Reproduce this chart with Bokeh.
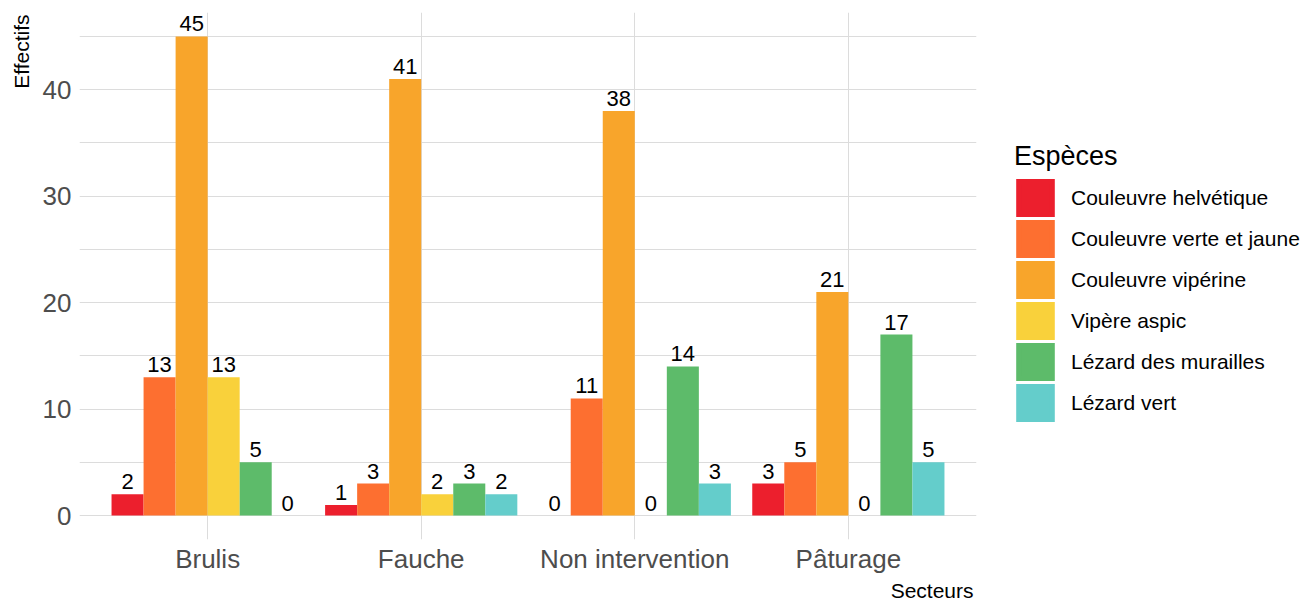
from bokeh.plotting import figure
from bokeh.models import FactorRange, Range1d, FixedTicker, Legend, LegendItem, Title, ColumnDataSource
from bokeh.transform import dodge
from bokeh.core.properties import value
from bokeh.embed import file_html
from bokeh.resources import INLINE

sectors = ["Brulis", "Fauche", "Non intervention", "Pâturage"]
species = ["Couleuvre helvétique", "Couleuvre verte et jaune", "Couleuvre vipérine",
           "Vipère aspic", "Lézard des murailles", "Lézard vert"]
colors = ["#EC1F2D", "#FD6F30", "#F8A52B", "#F9D13B", "#5DBB6A", "#64CDCB"]

couleuvre_helvetique = [2, 1, 0, 3]
couleuvre_verte_jaune = [13, 3, 11, 5]
couleuvre_viperine = [45, 41, 38, 21]
vipere_aspic = [13, 2, 0, 0]
lezard_murailles = [5, 3, 14, 17]
lezard_vert = [0, 2, 3, 5]
series = [couleuvre_helvetique, couleuvre_verte_jaune, couleuvre_viperine,
          vipere_aspic, lezard_murailles, lezard_vert]

y_ticks = [0, 10, 20, 30, 40]
y_minor = [5, 15, 25, 35, 45]

FONT = "Liberation Sans"
GRID = "#DCDCDC"

p = figure(x_range=FactorRange(factors=sectors, range_padding=0.1, range_padding_units="absolute"),
           y_range=Range1d(-2.25, 47.25),
           width=None, height=None, frame_width=897, frame_height=527,
           output_backend="svg", toolbar_location=None,
           min_border_left=78, min_border_right=330, min_border_top=12, min_border_bottom=0)
p.outline_line_color = None
p.background_fill_color = "white"

n = len(species)
bw = 0.9 / n
items = []
for j, (name, vals, col) in enumerate(zip(species, series, colors)):
    off = (j - (n - 1) / 2) * bw
    src = ColumnDataSource(dict(sector=sectors, v=vals, t=[str(v) for v in vals]))
    p.vbar(x=dodge("sector", off, range=p.x_range), top="v", bottom=0, width=bw,
           source=src, fill_color=col, line_color=None)
    p.text(x=dodge("sector", off, range=p.x_range), y="v", text="t", source=src,
           text_align="center", text_baseline="bottom", y_offset=-5,
           text_font=value(FONT), text_font_size="22px", text_color="black")
    # hidden proxy used only for the legend swatch
    key = p.vbar(x=dodge("sector", off, range=p.x_range), top="v", bottom=0, width=bw,
                 source=src, fill_color=col, line_color=col, line_width=5,
                 line_join="miter", visible=False)
    items.append(LegendItem(label=name, renderers=[key]))

p.yaxis.ticker = FixedTicker(ticks=y_ticks, minor_ticks=y_minor)
for ax in (p.xaxis, p.yaxis):
    ax.axis_line_color = None
    ax.major_tick_line_color = None
    ax.minor_tick_line_color = None
    ax.major_tick_out = 0
    ax.major_tick_in = 0
    ax.minor_tick_out = 0
    ax.minor_tick_in = 0
    ax.major_label_text_font = FONT
    ax.major_label_text_font_size = "26px"
    ax.major_label_text_color = "#4D4D4D"
p.yaxis.major_label_standoff = 8
p.xaxis.major_label_standoff = 4

p.ygrid.grid_line_color = GRID
p.ygrid.minor_grid_line_color = GRID
p.xgrid.grid_line_color = GRID

p.add_layout(Title(text="Effectifs", align="right", text_font=FONT, text_font_size="21px",
                   text_font_style="normal", text_color="black", offset=2, standoff=14), "left")
p.add_layout(Title(text="Secteurs", align="right", text_font=FONT, text_font_size="21px",
                   text_font_style="normal", text_color="black", offset=3, standoff=0), "below")

legend = Legend(items=items, title="Espèces", location=(38, 116), click_policy="none",
                title_text_font=FONT, title_text_font_size="27px", title_text_font_style="normal",
                title_text_color="black", title_standoff=5,
                label_text_font=FONT, label_text_font_size="21px", label_text_color="black",
                glyph_width=42, glyph_height=41, spacing=0, label_standoff=15,
                padding=5, margin=0, border_line_color=None, background_fill_alpha=0,
                inactive_fill_alpha=0)
p.add_layout(legend, "right")

open("out.html", "w").write(file_html(p, INLINE))
